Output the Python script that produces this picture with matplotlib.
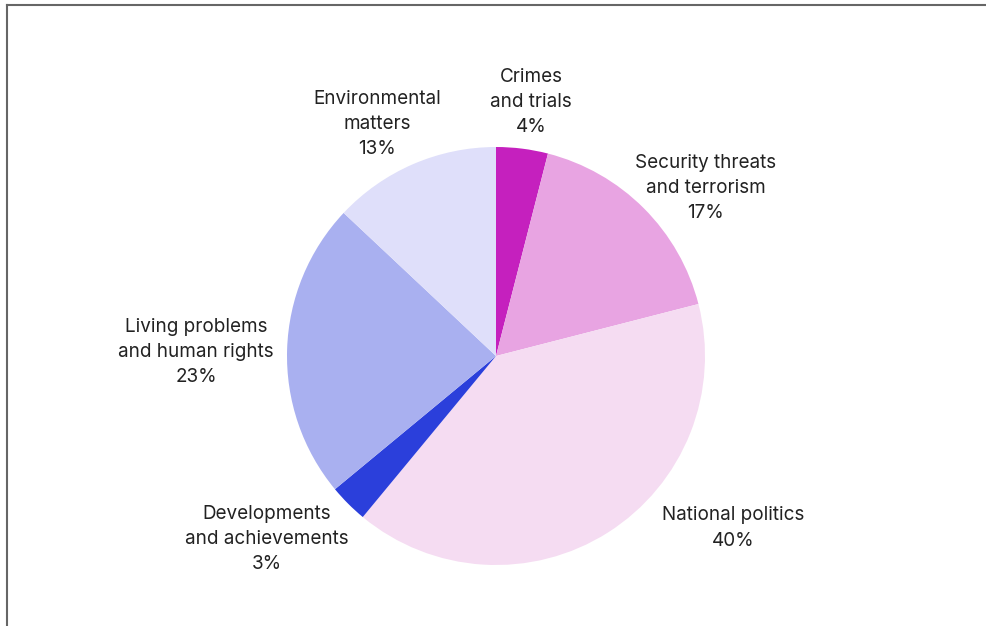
import matplotlib
matplotlib.use("Agg")
import matplotlib.pyplot as plt
from matplotlib.lines import Line2D

plt.rcParams['font.family'] = ['Inter', 'DejaVu Sans']

categories = [
    "Crimes\nand trials",
    "Security threats\nand terrorism",
    "National politics",
    "Developments\nand achievements",
    "Living problems\nand human rights",
    "Environmental\nmatters",
]
shares = [4, 17, 40, 3, 23, 13]
colors = ["#C520BE", "#E8A4E2", "#F5DCF2", "#2B3FDB", "#A9B0F0", "#DFDFFA"]

W, H = 987, 626
fig = plt.figure(figsize=(W / 100, H / 100), dpi=100)
ax = fig.add_axes([0, 0, 1, 1])

cx, cy, r = 496, H - 356, 209
ax.pie(shares, colors=colors, startangle=90, counterclock=False,
       center=(cx, cy), radius=r, frame=True,
       wedgeprops=dict(linewidth=0))
ax.set_xlim(0, W)
ax.set_ylim(0, H)
ax.set_aspect('equal')
ax.axis('off')

# label anchor points (pixels from top-left)
label_pos = [(531, 102), (706, 188), (733, 528), (267, 539), (196, 352), (377, 124)]
for name, val, (lx, ly) in zip(categories, shares, label_pos):
    ax.text(lx, H - ly, f"{name}\n{val}%", ha='center', va='center',
            fontsize=13.6, color='#222222', linespacing=1.5)

# frame edges along top and left
fig.add_artist(Line2D([7 / W, 7 / W], [0, 1 - 5 / H], transform=fig.transFigure,
                      color='#666666', linewidth=1.5))
fig.add_artist(Line2D([7 / W, 1], [1 - 5 / H, 1 - 5 / H], transform=fig.transFigure,
                      color='#666666', linewidth=1.5))

fig.savefig("out.png", dpi=100)
